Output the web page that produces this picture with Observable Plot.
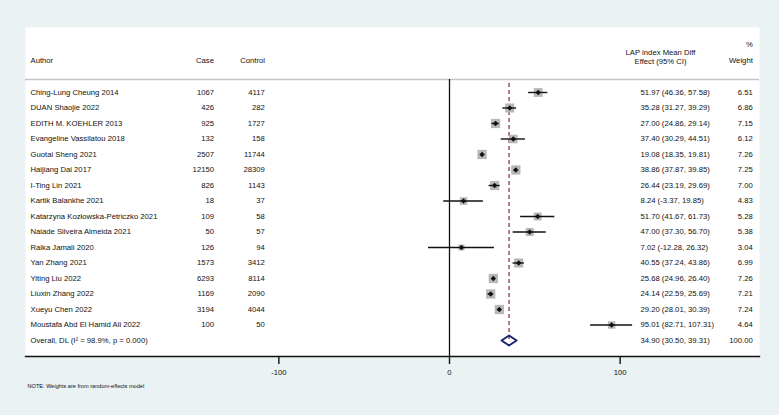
<!DOCTYPE html>
<html><head><meta charset="utf-8">
<script src="https://cdn.jsdelivr.net/npm/d3@7"></script>
<script src="https://cdn.jsdelivr.net/npm/@observablehq/plot@0.6"></script>
<style>
html,body{margin:0;padding:0;background:#EAF2F3;}
#chart svg{display:block;}
</style></head><body><div id="chart"></div>
<script>
const authors = ["Ching-Lung Cheung 2014","DUAN Shaojie 2022","EDITH M. KOEHLER 2013","Evangeline Vassilatou 2018","Guotai Sheng 2021","Haijiang Dai 2017","I-Ting Lin 2021","Kartik Balankhe 2021","Katarzyna Kozłowska-Petriczko 2021","Naiade Silveira Almeida 2021","Raika Jamali 2020","Yan Zhang 2021","Yiting Liu 2022","Liuxin Zhang 2022","Xueyu Chen 2022","Moustafa Abd El Hamid Ali 2022"];
const cases = [1067,426,925,132,2507,12150,826,18,109,50,126,1573,6293,1169,3194,100];
const controls = [4117,282,1727,158,11744,28309,1143,37,58,57,94,3412,8114,2090,4044,50];
const effects = [51.97,35.28,27.00,37.40,19.08,38.86,26.44,8.24,51.70,47.00,7.02,40.55,25.68,24.14,29.20,95.01];
const lower = [46.36,31.27,24.86,30.29,18.35,37.87,23.19,-3.37,41.67,37.30,-12.28,37.24,24.96,22.59,28.01,82.71];
const upper = [57.58,39.29,29.14,44.51,19.81,39.85,29.69,19.85,61.73,56.70,26.32,43.86,26.40,25.69,30.39,107.31];
const weights = [6.51,6.86,7.15,6.12,7.26,7.25,7.00,4.83,5.28,5.38,3.04,6.99,7.26,7.21,7.24,4.64];
const overallLabel = "Overall, DL (I² = 98.9%, p = 0.000)";
const overallEffect = 34.90, overallLower = 30.50, overallUpper = 39.31, overallWeight = 100.00;
const xTicks = [-100, 0, 100];
const noteText = "NOTE: Weights are from random-effects model";

const rows = authors.map((a, i) => ({
  row: i, author: a, cs: String(cases[i]), ct: String(controls[i]),
  es: effects[i], lo: lower[i], hi: upper[i], w: weights[i],
  label: `${effects[i].toFixed(2)} (${lower[i].toFixed(2)}, ${upper[i].toFixed(2)})`,
  wl: weights[i].toFixed(2)
}));
const oRow = authors.length;
const overall = [{row: oRow, es: overallEffect, lo: overallLower, hi: overallUpper,
  label: `${overallEffect.toFixed(2)} (${overallLower.toFixed(2)}, ${overallUpper.toFixed(2)})`,
  wl: overallWeight.toFixed(2)}];
const h = 0.32;
const diamond = [[overallLower, oRow], [overallEffect, oRow - h], [overallUpper, oRow], [overallEffect, oRow + h]];

const FS = 7.7;
const txt = {fontSize: FS, fill: "#111", frameAnchor: "left"};
const font = "'Liberation Sans', Arial, Helvetica, sans-serif";

const chart = Plot.plot({
  width: 779, height: 415,
  marginLeft: 25, marginRight: 20, marginTop: 27, marginBottom: 59,
  style: {fontFamily: font, fontSize: FS + "px", background: "#EAF2F3", color: "#111"},
  x: {domain: [-100, 100], range: [278.35, 619.65]},
  y: {domain: [0, 16], range: [92, 340], axis: null},
  r: {type: "sqrt", domain: [0, 7.26], range: [0, 5.25]},
  marks: [
    Plot.frame({fill: "white"}),
    Plot.ruleY([-0.84], {stroke: "#c4c4c4", strokeWidth: 1.5}),
    Plot.ruleX([0], {insetTop: 52, stroke: "#111", strokeWidth: 1.3}),
    Plot.ruleX([overallEffect], {y1: -0.58, y2: oRow, stroke: "#90353B", strokeWidth: 1.3, strokeDasharray: "4,3"}),
    Plot.dot(rows, {x: "es", y: "row", r: "w", symbol: "square", fill: "#b8b8b8"}),
    Plot.ruleY(rows, {y: "row", x1: "lo", x2: "hi", stroke: "#111", strokeWidth: 1.4}),
    Plot.dot(rows, {x: "es", y: "row", symbol: "diamond2", r: 2.4, fill: "#111"}),
    Plot.line(diamond, {x: d => d[0], y: d => d[1], curve: "linear-closed", stroke: "#1b2470", strokeWidth: 2, fill: "none"}),
    // headers
    Plot.text(["Author"], {...txt, text: d => d, y: -2.06, dx: 5, textAnchor: "start"}),
    Plot.text(["Case"], {...txt, text: d => d, y: -2.06, dx: 188.5, textAnchor: "end"}),
    Plot.text(["Control"], {...txt, text: d => d, y: -2.06, dx: 239.5, textAnchor: "end"}),
    Plot.text(["LAP index Mean Diff"], {...txt, text: d => d, y: -2.55, dx: 635, textAnchor: "middle"}),
    Plot.text(["Effect (95% CI)"], {...txt, text: d => d, y: -2.0, dx: 635, textAnchor: "middle"}),
    Plot.text(["%"], {...txt, text: d => d, y: -3.1, dx: 727.3, textAnchor: "end"}),
    Plot.text(["Weight"], {...txt, text: d => d, y: -2.06, dx: 727.3, textAnchor: "end"}),
    // columns
    Plot.text(rows, {...txt, y: "row", text: "author", dx: 5, textAnchor: "start"}),
    Plot.text([overallLabel], {...txt, y: oRow, text: d => d, dx: 5, textAnchor: "start"}),
    Plot.text(rows, {...txt, y: "row", text: "cs", dx: 188.5, textAnchor: "end"}),
    Plot.text(rows, {...txt, y: "row", text: "ct", dx: 239.3, textAnchor: "end"}),
    Plot.text(rows.concat(overall), {...txt, y: "row", text: "label", dx: 615, textAnchor: "start"}),
    Plot.text(rows.concat(overall), {...txt, y: "row", text: "wl", dx: 727.3, textAnchor: "end"}),
    // axis
    Plot.frame({anchor: "bottom", stroke: "#111", strokeWidth: 1.4}),
    Plot.axisX(xTicks, {tickSize: 8, tickPadding: 5, tickFormat: d => String(d), fontSize: FS, stroke: "#111", strokeWidth: 1.4, fill: "#111"}),
    Plot.text([noteText], {text: d => d, frameAnchor: "bottom-left", dx: 2, dy: 31, fontSize: 5.6, fill: "#111", textAnchor: "start"})
  ]
});
document.getElementById("chart").appendChild(chart);
</script></body></html>
